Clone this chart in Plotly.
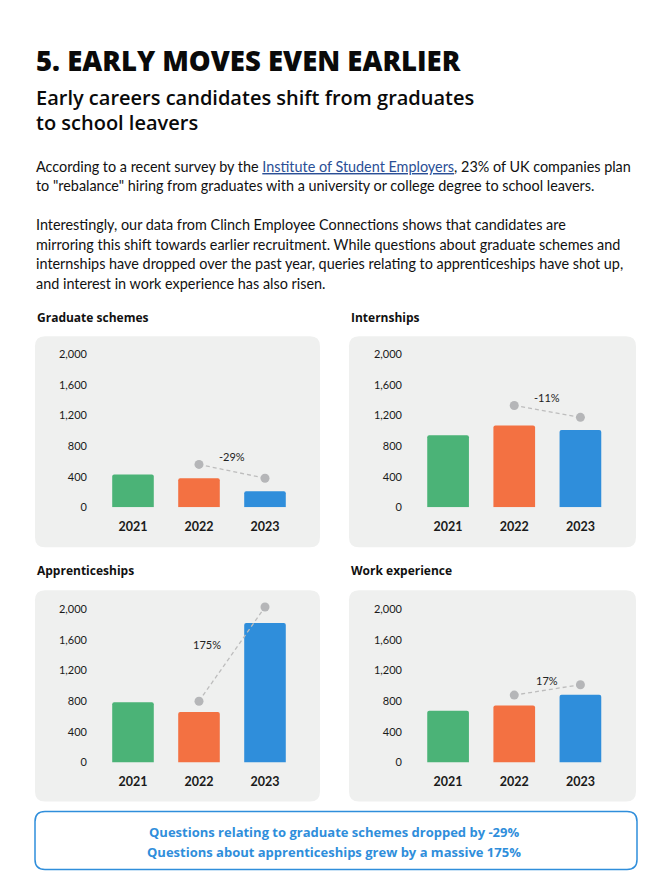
import plotly.graph_objects as go

# ---------------- data ----------------
years = ["2021", "2022", "2023"]
graduate_schemes = [430, 380, 210]
internships = [940, 1070, 1010]
apprenticeships = [785, 660, 1820]
work_experience = [675, 745, 885]

# trend markers (2022 -> 2023)
trend_years = ["2022", "2023"]
graduate_trend = [560, 380]
internships_trend = [1330, 1175]
apprenticeships_trend = [800, 2030]
work_trend = [880, 1015]

pct_labels = ["-29%", "-11%", "175%", "17%"]
pct_label_x = [1.5, 1.5, 1.12, 1.5]
pct_label_y = [657, 1429, 1542, 1072]

panel_titles = ["Graduate schemes", "Internships", "Apprenticeships", "Work experience"]
y_tickvals = [0, 400, 800, 1200, 1600, 2000]
y_ticktext = ["0", "400", "800", "1,200", "1,600", "2,000"]
bar_colors = ["#4bb377", "#f37142", "#2f8edb"]

# ---------------- geometry helpers ----------------
W, H = 664, 891
HE = 884.5  # effective vertical extent used for positioning
def X(x):
    return x / W
def Y(y):
    return 1 - y / HE

def rrect(x0, y0, x1, y1, r):
    return (f"M {X(x0+r)},{Y(y0)} L {X(x1-r)},{Y(y0)} Q {X(x1)},{Y(y0)} {X(x1)},{Y(y0+r)} "
            f"L {X(x1)},{Y(y1-r)} Q {X(x1)},{Y(y1)} {X(x1-r)},{Y(y1)} "
            f"L {X(x0+r)},{Y(y1)} Q {X(x0)},{Y(y1)} {X(x0)},{Y(y1-r)} "
            f"L {X(x0)},{Y(y0+r)} Q {X(x0)},{Y(y0)} {X(x0+r)},{Y(y0)} Z")

FONT = "Lato"
HFONT = "Open Sans"
fig = go.Figure()

series = [graduate_schemes, internships, apprenticeships, work_experience]
trends = [graduate_trend, internships_trend, apprenticeships_trend, work_trend]

ppx = 0.0765
ymax = 2100
panel_geo = [
    (100, 298, 507, 35, 320, 336, 547, 35, 317),
    (415, 613.5, 507, 349, 636, 336, 547, 349, 317),
    (100, 298, 762, 35, 320, 590, 801, 35, 570),
    (415, 613.5, 762, 349, 636, 590, 801, 349, 570),
]

shapes = []
annotations = []
for i in range(4):
    px0, px1, base, cx0, cx1, cy0, cy1, tx, ty = panel_geo[i]
    n = "" if i == 0 else str(i + 1)
    xa, ya = "x" + n, "y" + n
    fig.add_trace(go.Bar(x=years, y=series[i], marker=dict(color=bar_colors, line=dict(width=0),
                                                          cornerradius=2),
                         width=0.63, xaxis=xa, yaxis=ya, showlegend=False, hoverinfo="skip"))
    fig.add_trace(go.Scatter(x=trend_years, y=trends[i], mode="lines+markers",
                             line=dict(color="#bdbdbd", width=1.3, dash="4px,3px"),
                             marker=dict(color="#b5b6b8", size=9), cliponaxis=False,
                             xaxis=xa, yaxis=ya, showlegend=False, hoverinfo="skip"))
    top = base - ymax * ppx
    fig.update_layout(**{
        "xaxis" + n: dict(domain=[X(px0), X(px1)], anchor=ya, type="category",
                          range=[-0.5, 2.5], showgrid=False, zeroline=False, showline=False,
                          ticks="", ticklabelstandoff=10,
                          tickfont=dict(family=FONT, size=12.5, color="#1a1a1a", weight=700)),
        "yaxis" + n: dict(domain=[Y(base), Y(top)], anchor=xa, range=[0, ymax],
                          showgrid=False, zeroline=False, showline=False, ticks="",
                          tickvals=y_tickvals, ticktext=y_ticktext, ticklabelstandoff=12,
                          tickfont=dict(family=FONT, size=11, color="#1a1a1a")),
    })
    shapes.append(dict(type="path", path=rrect(cx0, cy0, cx1, cy1, 10), xref="paper", yref="paper",
                       fillcolor="#eff0ef", line=dict(width=0), layer="below"))
    annotations.append(dict(text=f"<b>{panel_titles[i]}</b>", x=X(tx), y=Y(ty), xref="paper",
                            yref="paper", xanchor="left", yanchor="middle", showarrow=False,
                            font=dict(family=HFONT, size=12, color="#111")))
    annotations.append(dict(text=pct_labels[i], x=pct_label_x[i], y=pct_label_y[i], xref=xa, yref=ya,
                            xanchor="center", yanchor="middle", showarrow=False,
                            font=dict(family=FONT, size=11, color="#222")))

# headings
annotations.append(dict(text="5. EARLY MOVES EVEN EARLIER", x=X(34), y=Y(60), xref="paper", yref="paper",
                        xanchor="left", yanchor="middle", showarrow=False,
                        font=dict(family=HFONT, size=27.5, color="#0a0a0a", weight=800)))
sub_lines = ["Early careers candidates shift from graduates", "to school leavers"]
for k, t in enumerate(sub_lines):
    annotations.append(dict(text=t, x=X(34), y=Y(97 + 25 * k), xref="paper", yref="paper",
                            xanchor="left", yanchor="middle", showarrow=False,
                            font=dict(family=HFONT, size=20, color="#0a0a0a", weight=600)))

body_lines = [
    ('According to a recent survey by the <span style="color:#2b4f96"><u>Institute of Student Employers</u></span>, 23% of UK companies plan', 166),
    ('to "rebalance" hiring from graduates with a university or college degree to school leavers.', 185.5),
    ("Interestingly, our data from Clinch Employee Connections shows that candidates are", 224.5),
    ("mirroring this shift towards earlier recruitment. While questions about graduate schemes and", 244),
    ("internships have dropped over the past year, queries relating to apprenticeships have shot up,", 263.5),
    ("and interest in work experience has also risen.", 283),
]
for t, yy in body_lines:
    annotations.append(dict(text=t, x=X(34), y=Y(yy), xref="paper", yref="paper",
                            xanchor="left", yanchor="middle", showarrow=False,
                            font=dict(family=FONT, size=14.4, color="#111")))

# callout box
shapes.append(dict(type="path", path=rrect(35, 811, 637, 869, 10), xref="paper", yref="paper",
                   fillcolor="white", line=dict(color="#2f8edb", width=1.5), layer="below"))
callout = ["Questions relating to graduate schemes dropped by -29%",
           "Questions about apprenticeships grew by a massive 175%"]
for k, t in enumerate(callout):
    annotations.append(dict(text=f"<b>{t}</b>", x=X(334), y=Y(831.5 + 20 * k), xref="paper", yref="paper",
                            xanchor="center", yanchor="middle", showarrow=False,
                            font=dict(family=HFONT, size=13, color="#2f8edb")))

fig.update_layout(width=W, height=H, margin=dict(l=0, r=0, t=0, b=0),
                  paper_bgcolor="white", plot_bgcolor="rgba(0,0,0,0)",
                  shapes=shapes, annotations=annotations, bargap=0.37,
                  font=dict(family=FONT))

fig.write_html("out.html", config={"displayModeBar": False},
               post_script="document.body.style.margin='0';")
